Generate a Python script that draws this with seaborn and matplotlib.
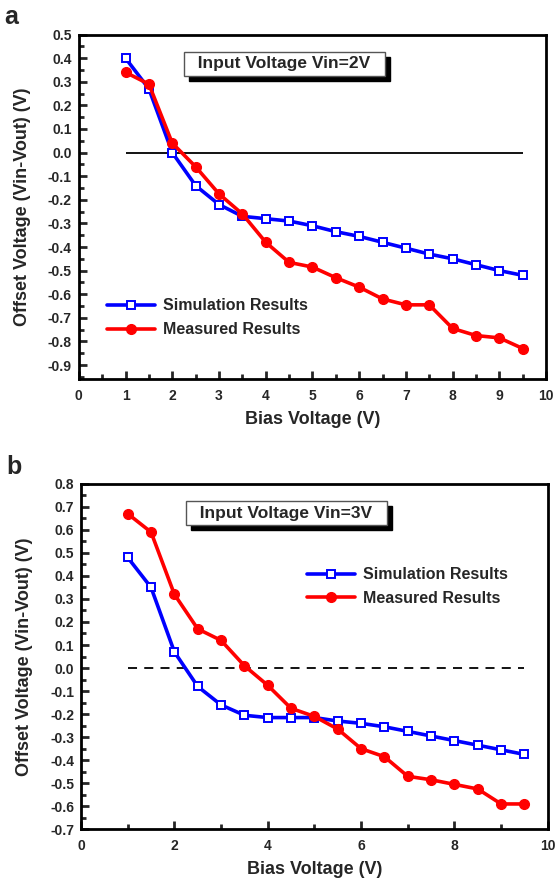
import numpy as np
import pandas as pd
import seaborn as sns
import matplotlib.pyplot as plt
from matplotlib.patches import Rectangle
from matplotlib.transforms import IdentityTransform

sns.set_theme(style="ticks")
plt.rcParams['font.family'] = ['Liberation Sans', 'DejaVu Sans']
plt.rcParams['font.weight'] = 'bold'

# Bias voltage steps (V)
bias = [1.0, 1.5, 2.0, 2.5, 3.0, 3.5, 4.0, 4.5, 5.0, 5.5,
        6.0, 6.5, 7.0, 7.5, 8.0, 8.5, 9.0, 9.5]

# Panel a: Vin = 2V
sim_a = [0.40, 0.27, 0.00, -0.14, -0.22, -0.27, -0.28, -0.29, -0.31, -0.335,
         -0.355, -0.38, -0.405, -0.43, -0.45, -0.475, -0.50, -0.52]
meas_a = [0.34, 0.29, 0.04, -0.06, -0.175, -0.26, -0.38, -0.465, -0.485, -0.53,
          -0.57, -0.62, -0.645, -0.645, -0.745, -0.775, -0.785, -0.83]

# Panel b: Vin = 3V
sim_b = [0.48, 0.35, 0.07, -0.08, -0.16, -0.205, -0.215, -0.215, -0.215, -0.23,
         -0.24, -0.255, -0.275, -0.295, -0.315, -0.335, -0.355, -0.375]
meas_b = [0.67, 0.59, 0.32, 0.17, 0.12, 0.01, -0.075, -0.175, -0.21, -0.265,
          -0.35, -0.385, -0.47, -0.485, -0.505, -0.525, -0.59, -0.59]

titles = ['Input Voltage Vin=2V', 'Input Voltage Vin=3V']
panel_labels = ['a', 'b']

fig = plt.figure(figsize=(5.55, 8.86), dpi=100)
ax_a = fig.add_axes([0.142, 0.572, 0.842, 0.389])
ax_b = fig.add_axes([0.146, 0.064, 0.841, 0.390])
boxes = []


def fmt(v):
    s = f'{v:.1f}'
    return '0.0' if s == '-0.0' else s


def draw_panel(ax, sim, meas, title, label, zero_style, legend_loc, legend_anchor,
               ylim, yticks, xmajor, xminor, yminor):
    df = pd.DataFrame({'bias': bias, 'sim': sim, 'meas': meas})
    sns.lineplot(data=df, x='bias', y='sim', ax=ax, color='#0000ff', lw=2.6,
                 marker='s', ms=6, mfc='white', mec='#0000ff', mew=1.4,
                 label='Simulation Results')
    sns.lineplot(data=df, x='bias', y='meas', ax=ax, color='#ff0000', lw=2.6,
                 marker='o', ms=7, mfc='#ff0000', mec='#ff0000', mew=1,
                 label='Measured Results')
    ax.hlines(0, df['bias'].min(), df['bias'].max(), colors='black',
              linestyles=zero_style, lw=1.3, zorder=1)

    ax.set_xlim(0, 10)
    ax.set_ylim(*ylim)
    ax.set_xticks(xmajor)
    ax.set_xticks(xminor, minor=True)
    ax.set_yticks(yticks)
    ax.set_yticks(yminor, minor=True)
    ax.set_yticklabels([fmt(v) for v in yticks])
    ax.tick_params(axis='both', which='both', direction='in', labelsize=10,
                   width=2, top=False, right=False)
    ax.tick_params(which='major', length=6)
    ax.tick_params(which='minor', length=3.5)
    ax.tick_params(axis='x', which='major', pad=7)
    ax.tick_params(axis='y', which='major', pad=5)
    for lab in ax.get_xticklabels() + ax.get_yticklabels():
        lab.set_fontweight('bold')
    for sp in ax.spines.values():
        sp.set_linewidth(2)
        sp.set_color('black')

    ax.set_xlabel('Bias Voltage (V)', fontsize=13, fontweight='bold', labelpad=6)
    ax.set_ylabel('Offset Voltage (Vin-Vout) (V)', fontsize=13, fontweight='bold',
                  labelpad=12)

    # title box (shadow added after layout)
    t = ax.text(0.44, 0.915, '  ' + title + '  ', transform=ax.transAxes,
                ha='center', va='center', fontsize=12.5, fontweight='bold',
                zorder=5,
                bbox=dict(boxstyle='square,pad=0.25', fc='white', ec='#555555', lw=1))
    boxes.append((ax, t))

    leg = ax.legend(loc=legend_loc, bbox_to_anchor=legend_anchor, frameon=False,
                    fontsize=11.5, handlelength=3, handletextpad=0.5,
                    labelspacing=0.55)
    for txt in leg.get_texts():
        txt.set_fontweight('bold')

    ax.text(-0.16, 1.015, label, transform=ax.transAxes, fontsize=18,
            fontweight='bold', ha='left', va='bottom')


draw_panel(ax_a, sim_a, meas_a, titles[0], panel_labels[0], 'solid',
           'lower left', (0.03, 0.08), (-0.96, 0.5),
           np.round(np.arange(-0.9, 0.51, 0.1), 2),
           np.arange(0, 11, 1), np.arange(0.5, 10, 1),
           np.round(np.arange(-0.95, 0.5, 0.1), 2))
draw_panel(ax_b, sim_b, meas_b, titles[1], panel_labels[1], (0, (5, 4)),
           'upper right', (0.945, 0.8), (-0.7, 0.8),
           np.round(np.arange(-0.7, 0.81, 0.1), 2),
           np.arange(0, 11, 2), np.arange(1, 10, 2),
           np.round(np.arange(-0.65, 0.8, 0.1), 2))

# drop shadow behind each title box
fig.canvas.draw()
for ax, t in boxes:
    bb = t.get_bbox_patch().get_window_extent()
    shadow = Rectangle((bb.x0 + 5, bb.y0 - 5), bb.width, bb.height,
                       transform=IdentityTransform(), fc='black', ec='black',
                       zorder=4, clip_on=False)
    ax.add_artist(shadow)

fig.savefig('out.png', dpi=100)
